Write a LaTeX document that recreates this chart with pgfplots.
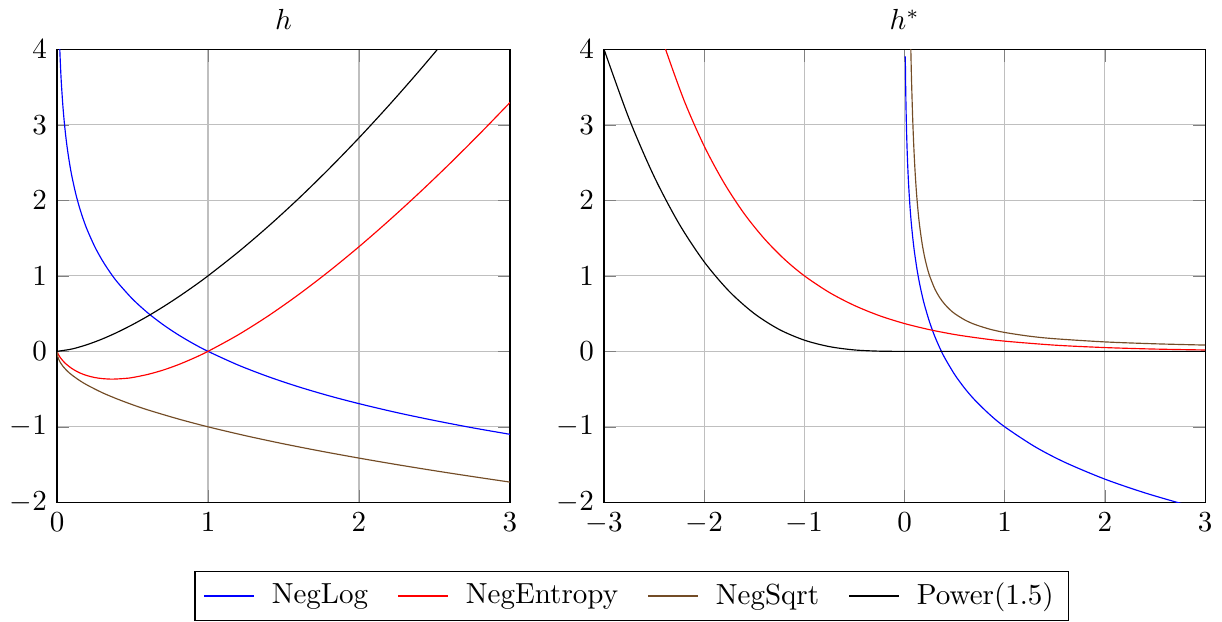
\documentclass[border=0pt]{standalone}
\usepackage{pgfplots}
\pgfplotsset{compat=1.18}
\begin{document}
\begin{tikzpicture}
\begin{axis}[name=left, scale only axis, width=156pt, height=156pt,
  xmin=0, xmax=3, ymin=-2, ymax=4, grid=major, title={$h$},
  title style={yshift=-2.8pt},
  xtick={0,1,2,3}, ytick={-2,-1,0,1,2,3,4}]
\addplot[blue, smooth] coordinates {(0.015,4.2) (0.018,4.017) (0.02,3.912) (0.025,3.689) (0.03,3.507) (0.04,3.219) (0.05,2.996) (0.06,2.813) (0.07,2.659) (0.085,2.465) (0.1,2.303) (0.125,2.079) (0.15,1.897) (0.175,1.743) (0.2,1.609) (0.25,1.386) (0.3,1.204) (0.35,1.050) (0.4,0.916) (0.5,0.693) (0.6,0.511) (0.7,0.357) (0.8,0.223) (0.9,0.105) (1.0,0) (1.2,-0.182) (1.4,-0.336) (1.6,-0.470) (1.8,-0.588) (2.0,-0.693) (2.25,-0.811) (2.5,-0.916) (2.75,-1.012) (3.0,-1.099)};
\addplot[red, smooth] coordinates {(0,0) (0.01,-0.046) (0.02,-0.078) (0.05,-0.150) (0.1,-0.230) (0.15,-0.285) (0.2,-0.322) (0.25,-0.347) (0.3,-0.361) (0.368,-0.368) (0.45,-0.359) (0.5,-0.347) (0.6,-0.306) (0.7,-0.250) (0.8,-0.179) (0.9,-0.095) (1.0,0) (1.2,0.219) (1.4,0.471) (1.6,0.752) (1.8,1.058) (2.0,1.386) (2.2,1.735) (2.4,2.101) (2.6,2.484) (2.8,2.883) (3.0,3.296)};
\addplot[brown!60!black, smooth] coordinates {(0,0) (0.005,-0.071) (0.01,-0.1) (0.02,-0.141) (0.04,-0.2) (0.07,-0.265) (0.1,-0.316) (0.15,-0.387) (0.2,-0.447) (0.3,-0.548) (0.4,-0.632) (0.5,-0.707) (0.6,-0.775) (0.8,-0.894) (1.0,-1) (1.25,-1.118) (1.5,-1.225) (1.75,-1.323) (2.0,-1.414) (2.25,-1.5) (2.5,-1.581) (2.75,-1.658) (3.0,-1.732)};
\addplot[black, smooth] coordinates {(0,0) (0.1,0.0316) (0.2,0.0894) (0.3,0.164) (0.4,0.253) (0.5,0.354) (0.6,0.465) (0.7,0.586) (0.8,0.716) (0.9,0.854) (1.0,1) (1.2,1.315) (1.4,1.657) (1.6,2.024) (1.8,2.415) (2.0,2.828) (2.2,3.263) (2.4,3.718) (2.6,4.192)};
\end{axis}
\begin{axis}[name=right, at={(left.south east)}, anchor=south west, xshift=32.4pt,
  scale only axis, width=207pt, height=156pt,
  xmin=-3, xmax=3, ymin=-2, ymax=4, grid=major, title={$h^*$},
  title style={yshift=-2.8pt},
  xtick={-3,-2,-1,0,1,2,3}, ytick={-2,-1,0,1,2,3,4},
  legend columns=4,
  legend style={at={(0.0458,-0.151)}, anchor=north, draw=black,
    /tikz/every odd column/.append style={column sep=4pt},
    /tikz/every even column/.append style={column sep=8.2pt}}]
\addplot[blue, smooth] coordinates {(0.0074,3.906) (0.01,3.605) (0.0125,3.382) (0.015,3.200) (0.0175,3.046) (0.02,2.912) (0.025,2.689) (0.03,2.507) (0.035,2.352) (0.04,2.219) (0.05,1.996) (0.06,1.813) (0.07,1.659) (0.085,1.465) (0.1,1.303) (0.125,1.079) (0.15,0.897) (0.175,0.743) (0.2,0.609) (0.25,0.386) (0.3,0.204) (0.35,0.050) (0.4,-0.084) (0.5,-0.307) (0.6,-0.489) (0.7,-0.643) (0.85,-0.837) (1.0,-1) (1.3,-1.262) (1.6,-1.470) (2.0,-1.693) (2.4,-1.875) (2.8,-2.030) (3.0,-2.099)};
\addlegendentry{NegLog}
\addplot[red, smooth] coordinates {(-2.5,4.482) (-2.4,4.055) (-2.2,3.320) (-2.0,2.718) (-1.8,2.226) (-1.6,1.822) (-1.4,1.492) (-1.2,1.221) (-1.0,1) (-0.75,0.779) (-0.5,0.607) (-0.25,0.472) (0,0.368) (0.25,0.287) (0.5,0.223) (0.75,0.174) (1.0,0.135) (1.5,0.082) (2.0,0.050) (2.5,0.030) (3.0,0.018)};
\addlegendentry{NegEntropy}
\addplot[brown!60!black, smooth] coordinates {(0.055,4.545) (0.06,4.167) (0.065,3.846) (0.07,3.571) (0.08,3.125) (0.09,2.778) (0.1,2.5) (0.11,2.273) (0.12,2.083) (0.135,1.852) (0.15,1.667) (0.175,1.429) (0.2,1.25) (0.225,1.111) (0.25,1) (0.3,0.833) (0.35,0.714) (0.4,0.625) (0.45,0.556) (0.5,0.5) (0.6,0.417) (0.7,0.357) (0.85,0.294) (1.0,0.25) (1.25,0.2) (1.5,0.167) (2.0,0.125) (2.5,0.1) (3.0,0.083)};
\addlegendentry{NegSqrt}
\addplot[black, smooth] coordinates {(-3,4) (-2.75,3.081) (-2.5,2.315) (-2.25,1.6875) (-2.0,1.185) (-1.75,0.794) (-1.5,0.5) (-1.25,0.289) (-1.0,0.148) (-0.75,0.0625) (-0.5,0.0185) (-0.25,0.0023) (0,0) (1,0) (2,0) (3,0)};
\addlegendentry{Power(1.5)}
\end{axis}
\end{tikzpicture}
\end{document}
